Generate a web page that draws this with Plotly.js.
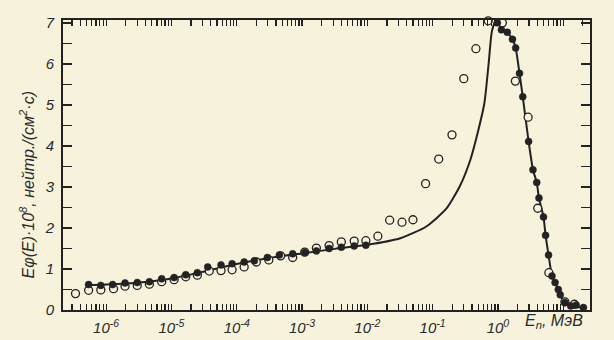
<!DOCTYPE html>
<html>
<head>
<meta charset="utf-8">
<script src="https://cdn.plot.ly/plotly-3.0.1.min.js"></script>
<style>
  html, body { margin: 0; padding: 0; background: #f7f2dc; }
  #chart { width: 614px; height: 340px; }
</style>
</head>
<body>
<div id="chart"></div>
<script>
// ---- data (energy in MeV, flux E·phi(E)·10^8 in n/(cm^2·s)) ----
const curveE = [4.9e-7, 1.0e-6, 3.2e-6, 1e-5, 3.2e-5, 1e-4, 3.2e-4, 1e-3, 3.2e-3, 1e-2, 3.2e-2, 7.9e-2,
  0.162, 0.263, 0.38, 0.49, 0.62, 0.72, 0.81, 0.93, 1.13, 1.39, 1.67, 1.87, 2.14, 2.4, 2.95, 3.44, 3.93,
  4.25, 4.99, 5.37, 5.96, 6.73, 7.5, 8.4, 9.0, 10.6, 13.0, 15.8, 20.4];
const curveV = [0.60, 0.62, 0.67, 0.77, 0.94, 1.12, 1.27, 1.38, 1.49, 1.59, 1.75, 2.03,
  2.47, 3.03, 3.67, 4.32, 5.04, 6.0, 6.8, 7.05, 6.88, 6.77, 6.60, 6.39, 5.77, 5.20, 4.11, 3.42, 3.11,
  2.73, 2.27, 1.82, 1.34, 0.83, 0.67, 0.50, 0.37, 0.18, 0.10, 0.08, 0.05];

const filledE = [5.4e-7, 8.3e-7, 1.26e-6, 1.95e-6, 3.0e-6, 4.6e-6, 7.1e-6, 1.1e-5, 1.66e-5, 2.5e-5, 3.6e-5,
  5.75e-5, 8.5e-5, 1.3e-4, 1.86e-4, 2.95e-4, 4.5e-4, 7.2e-4, 1.1e-3, 1.66e-3, 2.6e-3, 4.0e-3, 6.3e-3, 9.5e-3,
  0.98, 1.13, 1.39, 1.67, 1.87, 2.14, 2.4, 2.95, 3.44, 3.93, 4.25, 4.99, 5.37, 5.96, 6.73, 7.5, 8.4, 9.0,
  10.6, 13.0, 15.8, 20.4];
const filledV = [0.62, 0.60, 0.62, 0.66, 0.67, 0.69, 0.76, 0.79, 0.86, 0.91, 1.05,
  1.10, 1.13, 1.17, 1.20, 1.28, 1.34, 1.37, 1.40, 1.44, 1.50, 1.53, 1.56, 1.58,
  7.0, 6.83, 6.77, 6.60, 6.39, 5.77, 5.20, 4.11, 3.42, 3.11, 2.73, 2.27, 1.82, 1.34, 0.83, 0.67, 0.50, 0.37,
  0.18, 0.10, 0.12, 0.06];

const openE = [3.4e-7, 5.4e-7, 8.3e-7, 1.3e-6, 1.95e-6, 3.0e-6, 4.6e-6, 7.1e-6, 1.1e-5, 1.66e-5, 2.5e-5,
  3.8e-5, 5.75e-5, 8.5e-5, 1.3e-4, 2.0e-4, 3.1e-4, 4.7e-4, 7.2e-4, 1.1e-3, 1.66e-3, 2.6e-3, 4.0e-3, 6.3e-3,
  9.5e-3, 1.45e-2, 2.2e-2, 3.4e-2, 5.0e-2, 7.8e-2, 0.124, 0.198, 0.30, 0.46, 0.71, 1.17, 1.85, 2.9, 4.07,
  6.03, 10.6, 14.8];
const openV = [0.40, 0.48, 0.49, 0.52, 0.58, 0.60, 0.63, 0.69, 0.74, 0.81, 0.85,
  0.95, 0.96, 0.98, 1.05, 1.17, 1.22, 1.32, 1.28, 1.41, 1.51, 1.57, 1.66, 1.68,
  1.69, 1.80, 2.19, 2.14, 2.20, 3.08, 3.68, 4.27, 5.64, 6.37, 7.05, 7.0, 5.58, 4.7, 2.48,
  0.91, 0.20, 0.14];

const decades = [1e-7, 1e-6, 1e-5, 1e-4, 1e-3, 1e-2, 1e-1, 1, 10];
const decadeLabels = ['', '10<sup>-6</sup>', '10<sup>-5</sup>', '10<sup>-4</sup>', '10<sup>-3</sup>',
  '10<sup>-2</sup>', '10<sup>-1</sup>', '10<sup>0</sup>', ''];
const minorMultipliers = [1, 2, 3, 4, 5, 6, 7, 8, 9];
const yTickVals = [0, 0.5, 1, 1.5, 2, 2.5, 3, 3.5, 4, 4.5, 5, 5.5, 6, 6.5, 7];
const yTickText = ['0', ' ', '1', ' ', '2', ' ', '3', ' ', '4', ' ', '5', ' ', '6', ' ', '7'];

// ---- x ticks (all log minor positions, labels only at decades) ----
const xTickVals = [], xTickText = [];
decades.forEach((d, i) => {
  minorMultipliers.forEach(m => {
    const v = d * m;
    if (v >= 2.2e-7 && v <= 25) {
      xTickVals.push(v);
      xTickText.push(m === 1 ? decadeLabels[i] : ' ');
    }
  });
});

const ink = '#222';
const bg = '#f7f2dc';
const tickFont = { family: 'Liberation Sans, Arial, sans-serif', size: 15, color: '#2a2a2a', style: 'italic' };

const traces = [
  { x: curveE, y: curveV, type: 'scatter', mode: 'lines',
    line: { color: ink, width: 2, shape: 'spline', smoothing: 0.6 }, hoverinfo: 'skip' },
  { x: openE, y: openV, type: 'scatter', mode: 'markers', cliponaxis: false,
    marker: { symbol: 'circle', size: 8, color: bg, line: { color: ink, width: 1.3 } } },
  { x: filledE, y: filledV, type: 'scatter', mode: 'markers', cliponaxis: false,
    marker: { symbol: 'circle', size: 7, color: ink, line: { color: ink, width: 0.5 } } }
];

const layout = {
  width: 614, height: 340,
  margin: { l: 63, r: 24, t: 20, b: 30 },
  paper_bgcolor: bg, plot_bgcolor: bg,
  showlegend: false,
  xaxis: {
    type: 'log', range: [-6.66, 1.41],
    tickmode: 'array', tickvals: xTickVals, ticktext: xTickText, tickangle: 0,
    ticks: 'inside', ticklen: 6, tickwidth: 1.2, tickcolor: ink,
    showline: true, linewidth: 2, linecolor: ink, mirror: 'ticks',
    showgrid: false, zeroline: false, tickfont: tickFont, ticklabelstandoff: 3
  },
  yaxis: {
    range: [0, 7.07],
    tickmode: 'array', tickvals: yTickVals, ticktext: yTickText,
    ticks: 'inside', ticklen: 9, tickwidth: 1.3, tickcolor: ink,
    showline: true, linewidth: 2, linecolor: ink, mirror: 'ticks',
    showgrid: false, zeroline: false, tickfont: tickFont, ticklabelstandoff: 4
  },
  annotations: [
    { text: 'Eφ(E)·10<sup>8</sup>, нейтр./(см<sup>2</sup>·с)', textangle: -90,
      xref: 'paper', yref: 'paper', x: -0.068, y: 0.43, xanchor: 'center', yanchor: 'middle',
      showarrow: false, font: { family: 'Liberation Sans, Arial, sans-serif', size: 16, color: '#2a2a2a', style: 'italic' } },
    { text: 'E<sub>n</sub>, МэВ',
      xref: 'paper', yref: 'paper', x: 0.872, y: -0.04, xanchor: 'left', yanchor: 'middle',
      showarrow: false, font: { family: 'Liberation Sans, Arial, sans-serif', size: 16, color: '#2a2a2a', style: 'italic' } }
  ]
};

Plotly.newPlot('chart', traces, layout, { displayModeBar: false, staticPlot: true });
</script>
</body>
</html>
